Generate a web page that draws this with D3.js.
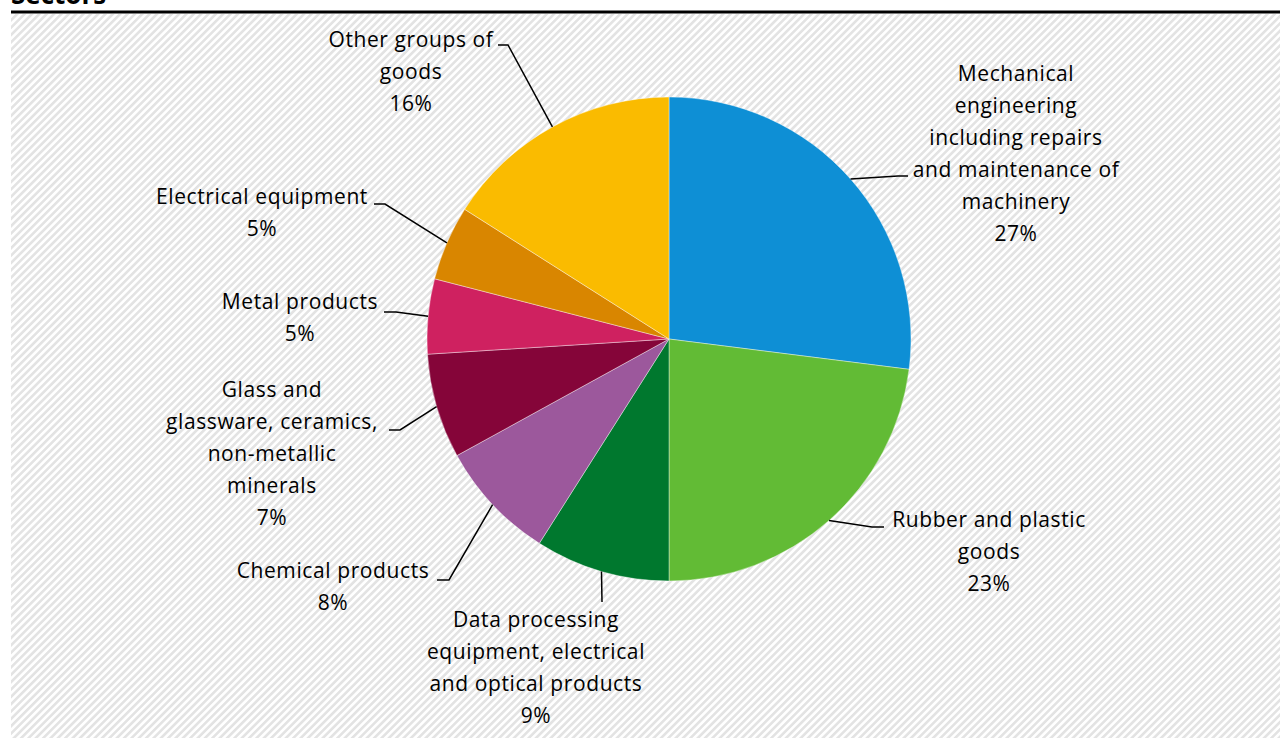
<!DOCTYPE html>
<html>
<head>
<meta charset="utf-8">
<script src="https://cdn.jsdelivr.net/npm/d3@7"></script>
<style>
  html, body { margin: 0; padding: 0; background: #ffffff; }
  svg { display: block; }
</style>
</head>
<body>
<svg id="chart" width="1280" height="738"></svg>
<script>
// Share of each sector, clockwise from 12 o'clock
const sectors = [
  "Mechanical engineering including repairs and maintenance of machinery",
  "Rubber and plastic goods",
  "Data processing equipment, electrical and optical products",
  "Chemical products",
  "Glass and glassware, ceramics, non-metallic minerals",
  "Metal products",
  "Electrical equipment",
  "Other groups of goods"
];
const shares = [27, 23, 9, 8, 7, 5, 5, 16];
const colors = ["#0e8fd5", "#62bb35", "#00782e", "#9c589c", "#850539", "#cf2160", "#d98600", "#fabb00"];

// Wrapped label lines per sector (the last line carries the percentage)
const labelLines = [
  ["Mechanical", "engineering", "including repairs", "and maintenance of", "machinery"],
  ["Rubber and plastic", "goods"],
  ["Data processing", "equipment, electrical", "and optical products"],
  ["Chemical products"],
  ["Glass and", "glassware, ceramics,", "non-metallic", "minerals"],
  ["Metal products"],
  ["Electrical equipment"],
  ["Other groups of", "goods"]
];

// Label layout: text anchor point (centre x, first baseline) and leader elbow/end
const labelAnchor = [
  [1016, 81], [989, 527], [536, 627], [333, 578],
  [272, 397], [300, 309], [262, 204], [411, 47]
];
const leaderElbow = [
  [898, 176], [872, 527], [602, 602], [449, 580],
  [400, 430], [396, 312], [385, 204], [508, 45]
];
const leaderEnd = [
  [908, 176], [884, 527], [602, 602], [437, 580],
  [389, 430], [384, 312], [374, 204], [498, 45]
];

const svg = d3.select("#chart");
const W = 1280, H = 738;
const cx = 669, cy = 339, R = 242;
const lineGap = 32;
const font = "'Open Sans', 'Noto Sans', sans-serif";

// Diagonal hatching for the plot area
const defs = svg.append("defs");
const pat = defs.append("pattern")
  .attr("id", "hatch")
  .attr("patternUnits", "userSpaceOnUse")
  .attr("width", 5.2).attr("height", 5.2)
  .attr("patternTransform", "rotate(45)");
pat.append("rect").attr("width", 5.2).attr("height", 5.2).attr("fill", "#ffffff");
pat.append("rect").attr("width", 2.6).attr("height", 5.2).attr("fill", "#e3e3e3");

svg.append("rect")
  .attr("x", 11).attr("y", 14)
  .attr("width", W - 11).attr("height", H - 14)
  .attr("fill", "url(#hatch)");

// Heading (partly above the visible area) and rule
svg.append("text")
  .attr("x", 11).attr("y", 4)
  .attr("font-family", font)
  .attr("font-weight", 700)
  .attr("font-size", 26)
  .attr("fill", "#000")
  .text("Sectors");

svg.append("line")
  .attr("x1", 11).attr("x2", W)
  .attr("y1", 12).attr("y2", 12)
  .attr("stroke", "#000").attr("stroke-width", 3);

// Pie
const pie = d3.pie().sort(null).value(d => d.value);
const data = sectors.map((s, i) => ({ name: s, value: shares[i], color: colors[i], i }));
const arcs = pie(data);
const arc = d3.arc().innerRadius(0).outerRadius(R);

const g = svg.append("g").attr("transform", `translate(${cx},${cy})`);
g.selectAll("path.slice")
  .data(arcs)
  .join("path")
  .attr("class", "slice")
  .attr("d", arc)
  .attr("fill", d => d.data.color)
  .attr("stroke", "#ffffff")
  .attr("stroke-width", 0.4);

// Leader lines from each slice's mid-angle on the rim
const leader = d3.line();
svg.selectAll("path.leader")
  .data(arcs)
  .join("path")
  .attr("class", "leader")
  .attr("fill", "none")
  .attr("stroke", "#000")
  .attr("stroke-width", 1.5)
  .attr("d", d => {
    const a = (d.startAngle + d.endAngle) / 2;
    const start = [cx + R * Math.sin(a), cy - R * Math.cos(a)];
    const i = d.data.i;
    return leader([start, leaderElbow[i], leaderEnd[i]]);
  });

// Labels
arcs.forEach(d => {
  const i = d.data.i;
  const lines = labelLines[i].concat([d.data.value + "%"]);
  const t = svg.append("text")
    .attr("font-family", font)
    .attr("font-size", 21)
    .attr("letter-spacing", 0.6)
    .attr("fill", "#000")
    .attr("text-anchor", "middle");
  lines.forEach((ln, k) => {
    t.append("tspan")
      .attr("x", labelAnchor[i][0])
      .attr("y", labelAnchor[i][1] + k * lineGap)
      .text(ln);
  });
});
</script>
</body>
</html>
